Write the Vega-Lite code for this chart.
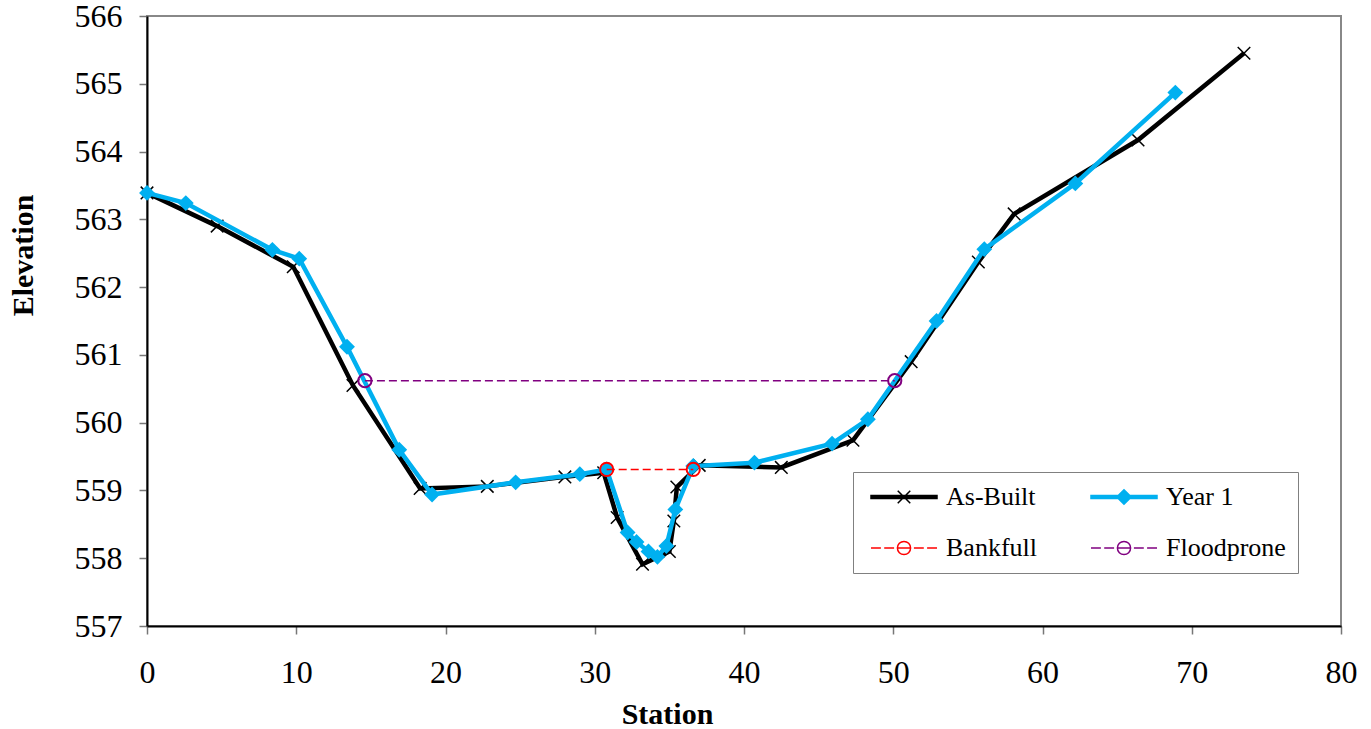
{
  "$schema": "https://vega.github.io/schema/vega-lite/v6.json",
  "width": 1194,
  "height": 610,
  "autosize": {"type": "none"},
  "padding": {"left": 147, "top": 16, "right": 30, "bottom": 103},
  "background": "white",
  "config": {
    "font": "Liberation Serif",
    "view": {"stroke": "#888888", "strokeWidth": 2}
  },
  "data": {
    "values": [
      {"series": "As-Built", "station": 0, "elev": 563.39},
      {"series": "As-Built", "station": 4.7, "elev": 562.9},
      {"series": "As-Built", "station": 9.8, "elev": 562.3},
      {"series": "As-Built", "station": 13.8, "elev": 560.55},
      {"series": "As-Built", "station": 18.3, "elev": 559.03},
      {"series": "As-Built", "station": 22.8, "elev": 559.06},
      {"series": "As-Built", "station": 28.0, "elev": 559.2},
      {"series": "As-Built", "station": 30.6, "elev": 559.26},
      {"series": "As-Built", "station": 31.5, "elev": 558.6},
      {"series": "As-Built", "station": 33.2, "elev": 557.91},
      {"series": "As-Built", "station": 35.0, "elev": 558.1},
      {"series": "As-Built", "station": 35.3, "elev": 558.55},
      {"series": "As-Built", "station": 35.5, "elev": 559.05},
      {"series": "As-Built", "station": 37.0, "elev": 559.37},
      {"series": "As-Built", "station": 42.5, "elev": 559.34},
      {"series": "As-Built", "station": 47.3, "elev": 559.74},
      {"series": "As-Built", "station": 51.2, "elev": 560.9},
      {"series": "As-Built", "station": 55.7, "elev": 562.37},
      {"series": "As-Built", "station": 58.1, "elev": 563.08},
      {"series": "As-Built", "station": 66.4, "elev": 564.17},
      {"series": "As-Built", "station": 73.5, "elev": 565.45},
      {"series": "Year 1", "station": 0, "elev": 563.39},
      {"series": "Year 1", "station": 2.6, "elev": 563.24},
      {"series": "Year 1", "station": 8.4, "elev": 562.55},
      {"series": "Year 1", "station": 10.2, "elev": 562.42},
      {"series": "Year 1", "station": 13.4, "elev": 561.12},
      {"series": "Year 1", "station": 16.9, "elev": 559.6},
      {"series": "Year 1", "station": 19.1, "elev": 558.94},
      {"series": "Year 1", "station": 24.7, "elev": 559.12},
      {"series": "Year 1", "station": 29.0, "elev": 559.24},
      {"series": "Year 1", "station": 30.8, "elev": 559.31},
      {"series": "Year 1", "station": 32.2, "elev": 558.38},
      {"series": "Year 1", "station": 32.8, "elev": 558.24},
      {"series": "Year 1", "station": 33.6, "elev": 558.1},
      {"series": "Year 1", "station": 34.2, "elev": 558.02},
      {"series": "Year 1", "station": 34.8, "elev": 558.18},
      {"series": "Year 1", "station": 35.4, "elev": 558.72},
      {"series": "Year 1", "station": 36.6, "elev": 559.36},
      {"series": "Year 1", "station": 40.7, "elev": 559.41},
      {"series": "Year 1", "station": 45.9, "elev": 559.69},
      {"series": "Year 1", "station": 48.3, "elev": 560.05},
      {"series": "Year 1", "station": 52.9, "elev": 561.5},
      {"series": "Year 1", "station": 56.1, "elev": 562.56},
      {"series": "Year 1", "station": 62.2, "elev": 563.53},
      {"series": "Year 1", "station": 68.9, "elev": 564.87},
      {"series": "Bankfull", "station": 30.8, "elev": 559.31},
      {"series": "Bankfull", "station": 36.6, "elev": 559.31},
      {"series": "Floodprone", "station": 14.6, "elev": 560.62},
      {"series": "Floodprone", "station": 50.1, "elev": 560.62}
    ]
  },
  "encoding": {
    "x": {
      "field": "station", "type": "quantitative",
      "scale": {"domain": [0, 80], "nice": false, "zero": false},
      "axis": {
        "title": "Station", "values": [0, 10, 20, 30, 40, 50, 60, 70, 80],
        "grid": false, "domainColor": "#000000", "domainWidth": 2,
        "tickColor": "#777777", "tickSize": 8, "tickWidth": 1.5,
        "labelFont": "Liberation Serif", "labelFontSize": 32, "labelColor": "#000000",
        "labelBaseline": "alphabetic", "labelPadding": 48, "labelFlush": false,
        "titleFont": "Liberation Serif", "titleFontSize": 30, "titleFontWeight": "bold", "titleColor": "#000000",
        "titleBaseline": "alphabetic", "titleX": 520, "titleY": 97, "titleAlign": "center"
      }
    },
    "y": {
      "field": "elev", "type": "quantitative",
      "scale": {"domain": [557, 566], "nice": false, "zero": false},
      "axis": {
        "title": "Elevation", "values": [557, 558, 559, 560, 561, 562, 563, 564, 565, 566],
        "grid": false, "domainColor": "#000000", "domainWidth": 2,
        "tickColor": "#777777", "tickSize": 8, "tickWidth": 1.5,
        "labelFont": "Liberation Serif", "labelFontSize": 32, "labelColor": "#000000",
        "labelPadding": 17, "labelFlush": false, "labelBaseline": "middle",
        "titleFont": "Liberation Serif", "titleFontSize": 30, "titleFontWeight": "bold", "titleColor": "#000000",
        "titleAngle": -90, "titleBaseline": "alphabetic", "titleAlign": "center", "titleX": -115, "titleY": 239
      }
    }
  },
  "layer": [
    {
      "transform": [{"filter": "datum.series === 'As-Built'"}],
      "mark": {"type": "line", "color": "#000000", "strokeWidth": 4.5, "strokeJoin": "miter"},
      "encoding": {}
    },
    {
      "transform": [{"filter": "datum.series === 'As-Built'"}],
      "mark": {"type": "point", "shape": "M-0.19,-0.19L0.19,0.19M-0.19,0.19L0.19,-0.19", "size": 4356, "filled": false, "color": "#000000", "strokeWidth": 1.5, "opacity": 1},
      "encoding": {}
    },
    {
      "transform": [{"filter": "datum.series === 'Year 1'"}],
      "mark": {"type": "line", "color": "#00B0F0", "strokeWidth": 4.5, "strokeJoin": "miter"},
      "encoding": {}
    },
    {
      "transform": [{"filter": "datum.series === 'Year 1'"}],
      "mark": {"type": "point", "shape": "M0,-0.24L0.24,0L0,0.24L-0.24,0Z", "size": 4356, "filled": true, "color": "#00B0F0", "opacity": 1},
      "encoding": {}
    },
    {
      "transform": [{"filter": "datum.series === 'Bankfull' || datum.series === 'Floodprone'"}],
      "mark": {"type": "line", "strokeWidth": 1.5, "strokeDash": [8, 4]},
      "encoding": {
        "color": {
          "field": "series", "type": "nominal",
          "scale": {"domain": ["Bankfull", "Floodprone"], "range": ["#FF0000", "#800080"]},
          "legend": null
        }
      }
    },
    {
      "transform": [{"filter": "datum.series === 'Bankfull' || datum.series === 'Floodprone'"}],
      "mark": {"type": "point", "shape": "M0.2,0A0.2,0.2,0,1,1,-0.2,0A0.2,0.2,0,1,1,0.2,0Z", "size": 4356, "filled": false, "strokeWidth": 2, "opacity": 1},
      "encoding": {
        "stroke": {
          "field": "series", "type": "nominal",
          "scale": {"domain": ["Bankfull", "Floodprone"], "range": ["#FF0000", "#800080"]},
          "legend": null
        }
      }
    },
    {
      "transform": [{"filter": "false"}],
      "mark": {"type": "point", "size": 4356, "strokeWidth": 1.5, "opacity": 1},
      "encoding": {
        "shape": {
          "field": "series", "type": "nominal",
          "scale": {
            "domain": ["As-Built", "Bankfull", "Year 1", "Floodprone"],
            "range": [
              "M-1,-0.045L1,-0.045L1,0.045L-1,0.045Z M-0.19,-0.19L0.19,0.19M-0.19,0.19L0.19,-0.19",
              "M-1,0L-0.7,0M-0.6,0L-0.3,0M-0.2,0L0.2,0M0.3,0L0.6,0M0.7,0L1,0M0.2,0A0.2,0.2,0,1,1,-0.2,0A0.2,0.2,0,1,1,0.2,0Z",
              "M-1,-0.045L1,-0.045L1,0.045L-1,0.045Z M0,-0.22L0.22,0L0,0.22L-0.22,0Z",
              "M-1,0L-0.7,0M-0.6,0L-0.3,0M-0.2,0L0.2,0M0.3,0L0.6,0M0.7,0L1,0M0.2,0A0.2,0.2,0,1,1,-0.2,0A0.2,0.2,0,1,1,0.2,0Z"
            ]
          },
          "legend": {
            "title": null, "orient": "none", "legendX": 706, "legendY": 456,
            "columns": 2, "columnPadding": 48, "rowPadding": 25, "padding": 12,
            "symbolSize": 4356, "symbolOffset": 5, "clipHeight": 26, "symbolStrokeWidth": 1.5,
            "labelOffset": 8, "labelFont": "Liberation Serif", "labelFontSize": 26, "labelColor": "#000000",
            "strokeColor": "#808080", "fillColor": "white"
          }
        },
        "stroke": {
          "field": "series", "type": "nominal",
          "scale": {"domain": ["As-Built", "Bankfull", "Year 1", "Floodprone"], "range": ["#000000", "#FF0000", "#00B0F0", "#800080"]},
          "legend": {
            "title": null, "orient": "none", "legendX": 706, "legendY": 456,
            "columns": 2, "columnPadding": 48, "rowPadding": 25, "padding": 12,
            "symbolSize": 4356, "symbolOffset": 5, "clipHeight": 26, "symbolStrokeWidth": 1.5,
            "labelOffset": 8, "labelFont": "Liberation Serif", "labelFontSize": 26, "labelColor": "#000000",
            "strokeColor": "#808080", "fillColor": "white"
          }
        },
        "fill": {
          "field": "series", "type": "nominal",
          "scale": {"domain": ["As-Built", "Bankfull", "Year 1", "Floodprone"], "range": ["#000000", "transparent", "#00B0F0", "transparent"]},
          "legend": {
            "title": null, "orient": "none", "legendX": 706, "legendY": 456,
            "columns": 2, "columnPadding": 48, "rowPadding": 25, "padding": 12,
            "symbolSize": 4356, "symbolOffset": 5, "clipHeight": 26, "symbolStrokeWidth": 1.5,
            "labelOffset": 8, "labelFont": "Liberation Serif", "labelFontSize": 26, "labelColor": "#000000",
            "strokeColor": "#808080", "fillColor": "white"
          }
        }
      }
    }
  ],
  "resolve": {
    "scale": {"color": "independent", "stroke": "independent", "fill": "independent", "shape": "independent"},
    "legend": {"color": "independent", "stroke": "independent", "fill": "independent", "shape": "independent"}
  }
}
